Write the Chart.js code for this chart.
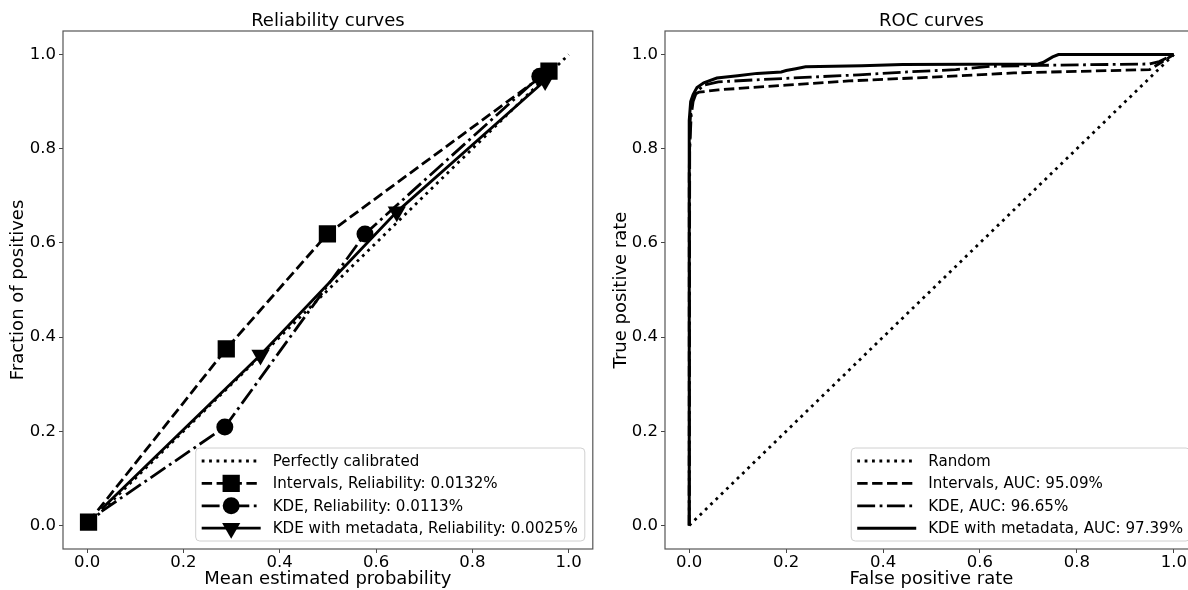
<!DOCTYPE html>
<html>
<head>
<meta charset="utf-8">
<script src="https://cdn.jsdelivr.net/npm/chart.js@4.4.1/dist/chart.umd.min.js"></script>
<style>
  body { margin: 0; background: #fff; overflow: hidden; width: 1188px; height: 590px; position: relative; }
  .panel { position: absolute; top: 0; height: 590px; width: 605px; }
  #left { left: 0; }
  #right { left: 605px; }
</style>
</head>
<body>
<div class="panel" id="left"><canvas id="relChart" width="605" height="590"></canvas></div>
<div class="panel" id="right"><canvas id="rocChart" width="605" height="590"></canvas></div>
<script>
const FONT = "'DejaVu Sans', sans-serif";
const tickValues = [0, 0.2, 0.4, 0.6, 0.8, 1.0];

// reliability curves
const calibX = [0, 1];
const calibY = [0, 1];
const intervalsX = [0.003, 0.289, 0.499, 0.959];
const intervalsY = [0.007, 0.375, 0.619, 0.965];
const kdeX = [0.03, 0.286, 0.577, 0.940];
const kdeY = [0.03, 0.209, 0.619, 0.954];
const kdeMetaX = [0.03, 0.360, 0.643, 0.951];
const kdeMetaY = [0.035, 0.362, 0.666, 0.945];

// roc curves
const randomX = [0, 1];
const randomY = [0, 1];
const rocIntX = [0, 0, 0.002, 0.005, 0.01, 0.02, 0.06, 0.2, 0.33, 0.5, 0.67, 0.95, 1];
const rocIntY = [0, 0.75, 0.86, 0.9, 0.915, 0.92, 0.925, 0.935, 0.944, 0.952, 0.961, 0.968, 1];
const rocKdeX = [0, 0.001, 0.004, 0.008, 0.015, 0.03, 0.06, 0.15, 0.25, 0.35, 0.45, 0.55, 0.62, 0.72, 0.95, 0.97, 1];
const rocKdeY = [0, 0.8, 0.87, 0.9, 0.92, 0.935, 0.942, 0.947, 0.952, 0.957, 0.963, 0.968, 0.975, 0.977, 0.98, 0.985, 1];
const rocMetaX = [0, 0, 0.003, 0.008, 0.016, 0.03, 0.057, 0.1, 0.14, 0.19, 0.2, 0.22, 0.24, 0.356, 0.44, 0.72, 0.73, 0.75, 0.762, 1];
const rocMetaY = [0, 0.86, 0.9, 0.915, 0.93, 0.94, 0.95, 0.955, 0.96, 0.963, 0.966, 0.97, 0.974, 0.976, 0.979, 0.98, 0.983, 0.995, 1, 1];

const LW = 2.8;
const DOTTED = [LW, 4.6];
const DASHED = [10.4, 4.5];
const DASHDOT = [17.9, 4.5, 2.8, 4.5];

const toXY = (xs, ys) => xs.map((x, i) => ({ x: x, y: ys[i] }));

// frame, title and matplotlib-like legend
const framePlugin = {
  id: 'frame',
  afterDraw(chart, args, opts) {
    const ctx = chart.ctx;
    const a = chart.chartArea;
    ctx.save();
    ctx.strokeStyle = '#555';
    ctx.lineWidth = 1.2;
    ctx.strokeRect(a.left, a.top, a.right - a.left, a.bottom - a.top);

    ctx.fillStyle = '#000';
    ctx.font = '18px ' + FONT;
    ctx.textAlign = 'center';
    ctx.textBaseline = 'alphabetic';
    ctx.fillText(opts.title, (a.left + a.right) / 2, 26);

    // legend
    ctx.font = '15.1px ' + FONT;
    const sets = chart.data.datasets;
    let tw = 0;
    sets.forEach(d => { tw = Math.max(tw, ctx.measureText(d.label).width); });
    const right = a.right - 8;
    const bottom = a.bottom - 8;
    const w = 84 + tw;
    const h = 93;
    const left = right - w;
    const top = bottom - h;
    ctx.fillStyle = 'rgba(255,255,255,0.8)';
    ctx.strokeStyle = '#d0d0d0';
    ctx.lineWidth = 1;
    ctx.beginPath();
    ctx.roundRect(left, top, w, h, 4);
    ctx.fill();
    ctx.stroke();
    sets.forEach((d, i) => {
      const y = top + 13 + i * 22.4;
      const x0 = left + 6, x1 = left + 65;
      ctx.strokeStyle = '#000';
      ctx.lineWidth = d.borderWidth;
      ctx.setLineDash(d.borderDash || []);
      ctx.beginPath();
      ctx.moveTo(x0, y);
      ctx.lineTo(x1, y);
      ctx.stroke();
      ctx.setLineDash([]);
      if (d.legendMarker) {
        ctx.fillStyle = '#000';
        Chart.helpers.drawPoint(ctx, {
          pointStyle: d.pointStyle, radius: d.legendMarker,
          rotation: d.pointRotation || 0, borderWidth: 0
        }, (x0 + x1) / 2, y);
      }
      ctx.fillStyle = '#000';
      ctx.textAlign = 'left';
      ctx.textBaseline = 'middle';
      ctx.fillText(d.label, left + 77, y + 1);
    });
    ctx.restore();
  }
};

function axis(title, size, titlePad) {
  return {
    type: 'linear',
    min: -0.05,
    max: 1.05,
    afterBuildTicks: s => { s.ticks = tickValues.map(v => ({ value: v })); },
    afterFit: s => { if (s.isHorizontal()) s.height = 41; else s.width = size; },
    grid: { drawOnChartArea: false, tickLength: 4, tickColor: '#444', tickWidth: 1 },
    border: { display: false },
    ticks: {
      color: '#000', padding: 3, autoSkip: false, maxRotation: 0,
      font: { family: FONT, size: 16.5 },
      callback: v => v.toFixed(1)
    },
    title: { display: true, text: title, color: '#000', font: { family: FONT, size: 18 }, padding: titlePad }
  };
}

function options(cfg) {
  const o = {
    responsive: false,
    animation: false,
    devicePixelRatio: 1,
    layout: { padding: { left: 0, top: 31, right: cfg.padRight, bottom: 0 } },
    plugins: { legend: { display: false }, tooltip: { enabled: false }, frame: { title: cfg.title } },
    scales: {
      x: axis(cfg.xTitle, 0, { top: 0, bottom: 0 }),
      y: axis(cfg.yTitle, cfg.yWidth, { top: cfg.yPad, bottom: 0 })
    }
  };
  o.scales.x.ticks.padding = 0;
  return o;
}

new Chart(document.getElementById('relChart'), {
  type: 'scatter',
  data: {
    datasets: [
      { label: 'Perfectly calibrated', data: toXY(calibX, calibY), showLine: true,
        borderColor: '#000', borderWidth: LW, borderDash: DOTTED, pointRadius: 0, order: 4 },
      { label: 'Intervals, Reliability: 0.0132%', data: toXY(intervalsX, intervalsY), showLine: true,
        borderColor: '#000', backgroundColor: '#000', borderWidth: LW, borderDash: DASHED,
        pointStyle: 'rect', pointRadius: 12.2, legendMarker: 12.2, pointBorderWidth: 0, order: 3 },
      { label: 'KDE, Reliability: 0.0113%', data: toXY(kdeX, kdeY), showLine: true,
        borderColor: '#000', backgroundColor: '#000', borderWidth: LW, borderDash: DASHDOT,
        pointStyle: 'circle', pointRadius: [0, 8.5, 8.5, 8.5], legendMarker: 8.5, pointBorderWidth: 0, order: 2 },
      { label: 'KDE with metadata, Reliability: 0.0025%', data: toXY(kdeMetaX, kdeMetaY), showLine: true,
        borderColor: '#000', backgroundColor: '#000', borderWidth: LW,
        pointStyle: 'triangle', pointRotation: 180, pointRadius: [0, 10.5, 10.5, 10.5], legendMarker: 10.5,
        pointBorderWidth: 0, order: 1 }
    ]
  },
  options: options({ title: 'Reliability curves', xTitle: 'Mean estimated probability',
    yTitle: 'Fraction of positives', yWidth: 63, yPad: 8, padRight: 7 }),
  plugins: [framePlugin]
});

new Chart(document.getElementById('rocChart'), {
  type: 'scatter',
  data: {
    datasets: [
      { label: 'Random', data: toXY(randomX, randomY), showLine: true,
        borderColor: '#000', borderWidth: LW, borderDash: DOTTED, pointRadius: 0, order: 4 },
      { label: 'Intervals, AUC: 95.09%', data: toXY(rocIntX, rocIntY), showLine: true,
        borderColor: '#000', borderWidth: LW, borderDash: DASHED, pointRadius: 0, order: 3 },
      { label: 'KDE, AUC: 96.65%', data: toXY(rocKdeX, rocKdeY), showLine: true,
        borderColor: '#000', borderWidth: LW, borderDash: DASHDOT, pointRadius: 0, order: 2 },
      { label: 'KDE with metadata, AUC: 97.39%', data: toXY(rocMetaX, rocMetaY), showLine: true,
        borderColor: '#000', borderWidth: 3, pointRadius: 0, order: 1 }
    ]
  },
  options: options({ title: 'ROC curves', xTitle: 'False positive rate',
    yTitle: 'True positive rate', yWidth: 60, yPad: 6, padRight: 12 }),
  plugins: [framePlugin]
});
</script>
</body>
</html>
